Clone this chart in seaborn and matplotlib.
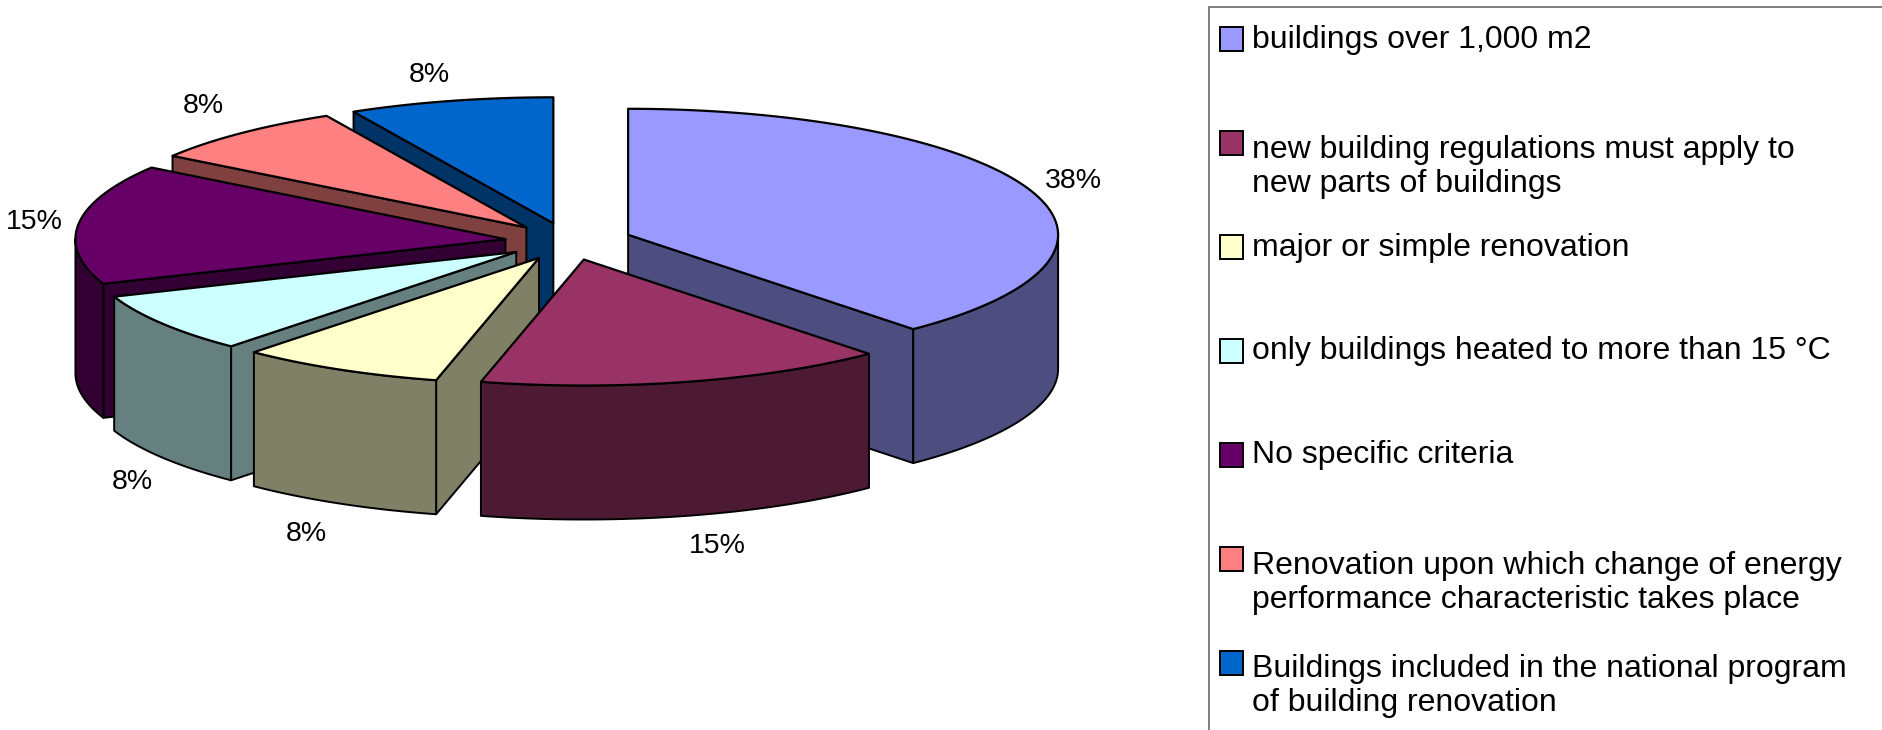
import numpy as np
import matplotlib
matplotlib.use("Agg")
import matplotlib.pyplot as plt
from matplotlib.patches import Polygon, Rectangle
import seaborn as sns

# Data
categories = [
    "buildings over 1,000 m2",
    "new building regulations must apply to\nnew parts of buildings",
    "major or simple renovation",
    "only buildings heated to more than 15 °C",
    "No specific criteria",
    "Renovation upon which change of energy\nperformance characteristic takes place",
    "Buildings included in the national program\nof building renovation",
]
counts = [5, 2, 1, 1, 2, 1, 1]
hex_colors = ["#9999FF", "#993366", "#FFFFCC", "#CCFFFF", "#660066", "#FF8080", "#0066CC"]

# Layout (pixels of the 1883x730 canvas)
CX, CY = 568.6, 241.4
RX, RY = 430.0, 126.0
DEPTH = 134.0
EXPLODE = 0.148
draw_order = [6, 5, 0, 4, 3, 2, 1]
label_xy = [(1073, 181), (717, 546), (306, 534), (132, 482), (34, 222), (203, 106), (429, 75)]
legend_swatch_y = [39, 143, 247, 351, 455, 559, 663]
legend_text_y = [40, 167, 248, 351.5, 455, 583, 686]

sns.set_theme(style="white")
plt.rcParams["font.family"] = ["Liberation Sans", "DejaVu Sans"]
palette = sns.color_palette(hex_colors)

fig = plt.figure(figsize=(18.83, 7.30), dpi=100)
ax = fig.add_axes([0, 0, 1, 1])
ax.set_xlim(0, 1883)
ax.set_ylim(730, 0)
ax.axis("off")

shares = np.array(counts, float) / sum(counts)
edges = np.concatenate([[0], np.cumsum(shares)]) * 2 * np.pi


def rim(theta):
    return np.sin(theta) * RX, -np.cos(theta) * RY


def slice_faces(i):
    a0, a1 = edges[i], edges[i + 1]
    mid = (a0 + a1) / 2
    ox = CX + EXPLODE * RX * np.sin(mid)
    oy = CY - EXPLODE * RY * np.cos(mid)
    faces = []
    # radial walls
    for ang, visible in ((a0, np.sin(a0) < -1e-6), (a1, np.sin(a1) > 1e-6)):
        if visible:
            dx, dy = rim(ang)
            faces.append([(ox, oy), (ox + dx, oy + dy), (ox + dx, oy + dy + DEPTH), (ox, oy + DEPTH)])
    # outer wall
    lo, hi = max(a0, np.pi / 2), min(a1, 1.5 * np.pi)
    if hi > lo:
        t = np.linspace(lo, hi, 80)
        dx, dy = rim(t)
        top = np.column_stack([ox + dx, oy + dy])
        bot = np.column_stack([ox + dx, oy + dy + DEPTH])[::-1]
        faces.append(np.vstack([top, bot]))
    t = np.linspace(a0, a1, 120)
    dx, dy = rim(t)
    lid = np.vstack([[(ox, oy)], np.column_stack([ox + dx, oy + dy])])
    return faces, lid


for z, i in enumerate(draw_order):
    col = np.array(palette[i])
    faces, lid = slice_faces(i)
    for f in faces:
        ax.add_patch(Polygon(f, closed=True, fc=col * 0.5, ec="black", lw=1.4, joinstyle="round", zorder=10 + z))
    ax.add_patch(Polygon(lid, closed=True, fc=col, ec="black", lw=1.6, joinstyle="round", zorder=10 + z))

for (x, y), s in zip(label_xy, shares):
    ax.text(x, y, f"{s * 100:.0f}%", ha="center", va="center", fontsize=20.5, color="black", zorder=40)

# Legend box
ax.add_patch(Rectangle((1209.5, 6.5), 800, 800, fc="white", ec="#7f7f7f", lw=1.4, zorder=30))
for i, name in enumerate(categories):
    ax.add_patch(Rectangle((1220, legend_swatch_y[i] - 12), 23, 24, fc=palette[i], ec="black", lw=1.4, zorder=31))
    ax.text(1252.5, legend_text_y[i], name, ha="left", va="center", fontsize=23, color="black",
            linespacing=1.17, zorder=32)

fig.savefig("out.png", dpi=100)
